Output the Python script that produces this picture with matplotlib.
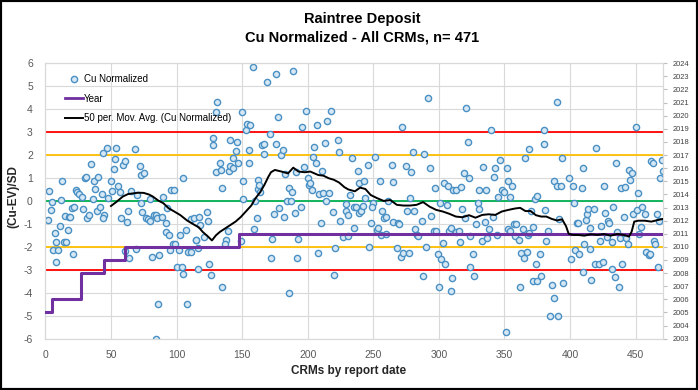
import matplotlib
matplotlib.use("Agg")
import matplotlib.pyplot as plt
from matplotlib.lines import Line2D
from matplotlib.patches import Rectangle

plt.rcParams['font.family'] = ['Liberation Sans', 'DejaVu Sans']
plt.rcParams['axes.unicode_minus'] = False

# Cu Normalized values, index by report date
cu_x = [3, 2, 4, 5, 7, 6, 8, 8, 10, 11, 12, 13, 14, 16, 15, 17, 18, 19, 20, 21, 22, 23, 24, 26, 28, 29, 30, 31, 32, 33,
        35, 36, 37, 40, 38, 39, 42, 43, 44, 47, 45, 44, 48, 50, 51, 52, 53, 54, 55, 57, 58, 59, 61, 62, 63, 61, 64, 65,
        68, 69, 70, 72, 73, 73, 75, 74, 77, 78, 80, 80, 81, 83, 84, 85, 86, 84, 87, 89, 90, 92, 92, 93, 94, 96, 98, 95,
        97, 99, 100, 102, 103, 104, 105, 105, 107, 108, 109, 111, 111, 113, 115, 116, 116,
        117, 118, 123, 124, 115, 121, 125, 126, 128, 128, 131, 130, 130, 133, 134, 135, 135, 138, 139, 137, 140, 141,
        141, 143, 143, 145, 146, 147, 149, 150, 151, 151, 153, 154, 156, 155, 155, 158, 159, 160, 161, 162, 162, 163,
        164, 165, 167, 167, 169, 171, 172, 173, 174, 176, 176, 177, 178, 180, 181, 182, 183, 184, 187, 186, 186, 188,
        189, 190, 191, 192, 193, 195, 196, 197, 199, 200, 201, 202, 203, 204, 205, 206, 207, 208, 209, 210, 211, 212,
        214, 216, 213, 215, 218, 219, 220, 221, 223, 224, 225, 227, 229, 229, 231, 231, 232, 234, 235,
        238, 239, 235, 237, 239, 241, 242, 244, 243, 246, 248, 247, 250, 249, 251, 253, 254, 255, 256, 257, 258, 260,
        260, 261, 264, 265, 265, 268, 269, 270, 272, 271, 273, 277, 275, 276, 278, 279, 280, 281, 282, 283, 284, 287,
        288, 289, 290, 292, 293, 294, 296, 297, 298, 299, 300, 301, 302, 303, 304, 305, 306, 307, 308, 309, 310, 309,
        311, 313, 313, 315, 316, 317, 318, 319, 320, 321, 322, 323, 324, 326, 324, 327, 328, 330, 331, 336, 331, 333,
        334, 335, 337, 338, 340, 341, 342, 343, 344, 345, 347, 348, 350, 351, 352, 353, 353,
        354, 356, 354, 357, 359, 358, 361, 362, 364, 363, 365, 367, 366, 368, 369, 369, 370, 372, 373, 375, 372, 375,
        374, 377, 378, 380, 380, 381, 382, 383, 385, 391, 386, 388, 388, 390, 390, 393, 392, 394, 395, 399, 401, 402,
        403, 404, 405, 406, 407, 409, 410, 410, 411, 412, 413, 414, 415, 415, 416, 418, 419, 422, 420, 423, 424, 425,
        426, 427, 428, 429, 430, 432, 432, 433, 434, 435, 436, 437, 438, 439, 442, 440, 441, 443, 444, 445, 447, 446,
        448, 451, 450, 452, 453, 454, 455, 457, 458, 460, 461, 462, 463, 464, 465, 466, 467, 468, 469, 470, 471]
cu_y = [0.45, -0.84, -0.39, -0.03, -1.41, -2.13, -1.77, -2.64, -2.13, -1.09, 0.04, 0.87, -1.80, -1.80, -0.64, -1.26,
        -0.71, -0.71, -0.29, -2.32, -0.28, 0.48, 0.38, 0.29, 0.16, -0.36, 1.02, 1.05, -0.73, -0.61,
        1.61, 0.09, 0.87, 1.06, 0.54, -0.44, -0.28, 0.29, 2.08, 2.32, -0.60, -0.73, 0.15, 0.89, 0.44, 1.38, 1.82, 2.29,
        0.65, 0.41, -0.73, 1.57, 1.74, -0.90, -0.42, -2.18, -2.50, 0.45,
        2.25, -2.09, 0.26, 1.53, 1.13, -0.10, 1.21, -0.48, -0.76, -0.80, 0.07, -0.86, -2.45, -0.61, -0.61, -0.76,
        -4.47, -6.0, -2.35, -0.68, 0.16, -0.96, -1.34, -0.29, -1.48, 0.48, 0.48, -2.13,
        -1.86, -1.86, -2.88, -2.15, -1.48, -2.89, 0.99, -3.17, -1.26, -4.50, -2.24, -2.24, -0.78, -0.76, -1.71, -2.06,
        -2.98,
        -0.71, -1.05, -0.46, -0.86, -1.70, -1.55, -2.76, -3.24, 2.73, 2.44, 4.33, 3.86, 1.25, 1.67, 1.35, 0.58, -3.75,
        -1.70, -1.31, -1.89, 1.32, 2.66,
        1.54, 1.45, 1.89, 2.19, 2.56, 1.67, -1.74, 3.86, 0.89, 0.07, 3.08, 3.36, 3.30, 1.66, 2.22, 5.84, -1.22, 0.0,
        -0.76, 0.52, 0.92, 0.70,
        0.41, 2.44, 2.47, 2.05, 5.17, 2.91, -2.50, -1.67, -0.57, 5.53, 2.50, 3.66, -0.32, 2.0, 2.22, -0.68, 1.18, 0.0,
        0.0, -3.99, 0.55, 0.41,
        5.66, -0.51, 1.25, -2.50, -1.67, -0.25, 3.22, 1.50, 3.92, 0.99, 0.70, 0.77, 0.49, 1.93, 2.37, 1.64, 3.31, -2.25,
        0.29, -0.94, 1.32, 0.33,
        0.0, 0.33, 2.54, 3.49, 3.92, -0.46, -3.24, -2.03, 2.66, 2.11, -0.87, -1.55, -0.15, -0.44, -0.61, -1.53, 0.26,
        1.89, -1.19,
        1.32, 0.77, -0.25, -0.28, -0.54, -0.42, -0.20, 0.12, 0.87, 1.57, -0.94, -2.02, -0.10, -0.25, 1.93, -1.26, -1.16,
        0.87, -1.48, -0.44, -0.76, -0.68,
        -1.45, 0.01, 1.57, 0.81, -0.93, -2.06, -0.97, -1.00, 3.20, -2.44, -2.25, -2.25, 1.54, -0.44, 0.12, 1.25, 2.11,
        -0.44, -1.23, -1.48, -1.51, -0.87,
        -3.25, 2.05, -2.02, 4.47, 1.42, -0.64, -1.29, 0.55, -1.29, -2.31, -3.73, -0.07, -2.53, -1.82, 0.77, -2.76,
        -0.17, 0.67, -1.31, -1.19, -3.37, -3.92,
        0.48, 0.48, -1.34, -1.31, -1.80, 0.60, -0.35, 1.23, -0.76, 4.04, 2.56, 0.99, -1.51, -2.31, -2.86, -3.25, -1.00,
        -0.07, 0.48, 0.48, -0.35, -1.74,
        1.50, -0.93, -1.60, -1.22, 3.09, -0.71, 1.06, 1.42, -1.48, 0.19, 1.79, 0.48, 0.41, -5.72, 1.42, 0.87, -1.22,
        0.19, 0.67, -1.29, -1.02, -1.02, -1.51, -1.70, -3.73, -1.22, -2.25, -2.47, -2.21, 1.89, -1.48, 2.25, -1.41,
        -0.44, -1.12, 0.09, 0.23, -3.49, -3.49,
        -2.76, -2.32, -3.25, 3.09, 2.50, -0.39, -1.73, -1.31, -5.00, -5.00, -3.66, -4.24, 0.89, 4.30, 0.67, 0.67, -0.78,
        1.89, -3.56, 0.99, -2.54, 0.67,
        -0.07, -2.13, -0.94, -0.97, -2.32, 0.55, -3.11, 1.42, -1.87, -0.83, -0.58, -0.35, -2.11, -1.19, -3.44, -0.35,
        -2.76, -2.76, 2.32, -1.74, -1.07, -2.67,
        0.67, -0.51, -1.55, -0.86, -0.97, -1.77, -2.98, -0.25, -3.33, 1.67, -1.37, -3.73, -1.63, 0.55, 0.60, -2.76,
        -0.68, -1.63, -1.87, 1.35, 1.21, 0.92,
        -0.57, -0.39, 3.24, 0.36, -1.44, -1.12, -0.25, -0.55, -2.24, -2.35, -2.32, 1.74, 1.67, -1.74, -1.89, -0.57,
        -2.89, -0.87, 0.99, 1.79, 1.32]

# 50 period moving average
ma_x = [50, 54, 59, 63, 67, 71, 75, 79, 82, 86, 90, 94, 98, 103, 108, 113, 117, 120, 124, 127, 130, 133, 137, 141,
        145, 149, 153, 157, 160, 164, 167, 170, 172, 175, 180, 185, 189, 193, 198, 202, 208, 212, 216, 220, 224, 228,
        231, 236, 240, 244, 248, 253, 258, 263, 268, 273, 278, 283, 288, 293, 298, 303, 308, 313, 318, 323, 328, 333,
        338, 343, 348, 353, 358, 362, 366, 370, 374, 378, 382, 386, 390, 394, 397, 399, 402, 406, 411, 416, 421, 426,
        431, 436, 441, 445, 447, 449, 452, 457, 462, 467, 471]
ma_y = [-0.22, -0.05, 0.19, 0.30, 0.33, 0.36, 0.35, 0.28, 0.19, 0.02, -0.10, -0.32, -0.45, -0.62, -0.85, -1.02,
        -1.15, -1.35, -1.55, -1.72, -1.50, -1.35, -1.20, -1.05, -0.90, -0.70, -0.45, -0.20, 0.10, 0.40, 0.70, 1.05,
        1.25, 1.35, 1.28, 1.20, 1.45, 1.28, 1.25, 1.28, 1.13, 1.10, 0.99, 0.92, 0.80, 0.60, 0.50, 0.42, 0.58, 0.52,
        0.26, 0.12, 0.00, 0.04, -0.17, -0.20, -0.20, -0.17, -0.05, -0.25, -0.39, -0.46, -0.56, -0.68, -0.71, -0.62,
        -0.73, -0.61, -0.58, -0.61, -0.46, -0.39, -0.33, -0.30, -0.44, -0.44, -0.62, -0.68, -0.68, -0.78, -0.85,
        -0.80, -1.10, -1.43, -1.48, -1.48, -1.51, -1.45, -1.48, -1.44, -1.51, -1.44, -1.48, -1.55, -1.34, -0.90,
        -0.86, -0.86, -0.90, -0.83, -0.78]

# Year (secondary axis), step changes
year_x = [0, 5, 27, 45, 61, 148, 471]
year_v = [2005, 2006, 2008, 2009, 2010, 2011, 2011]

fig = plt.figure(figsize=(6.98, 3.90), dpi=100)
ax = fig.add_axes([0.065, 0.1315, 0.885, 0.7065])
ax2 = ax.twinx()

grid_c = '#d9d9d9'
ax.set_xlim(0, 471)
ax.set_ylim(-6, 6)
ax.set_xticks(range(0, 451, 50))
ax.set_yticks(range(-6, 7))
ax.grid(True, color=grid_c, lw=0.8)
ax.set_axisbelow(True)
ax.tick_params(length=0, labelsize=7.5, labelcolor='#595959')
ax.tick_params(axis='x', pad=8)
ax.tick_params(axis='y', pad=9)

for y, c in [(3, '#ff0000'), (-3, '#ff0000'), (2, '#ffc000'), (-2, '#ffc000'), (0, '#00b050')]:
    ax.axhline(y, color=c, lw=1.3, zorder=2)

ax.scatter(cu_x, cu_y, s=20, facecolor='#d5e8f4', edgecolor='#4a90c4', linewidth=1.0, zorder=3)

ax2.set_ylim(2003, 2024)
ax2.set_yticks(range(2003, 2025))
ax2.tick_params(axis='y', length=3, color='#bfbfbf', labelsize=5.4, labelcolor='#404040', pad=4)
ax2.step(year_x, year_v, where='post', color='#7030a0', lw=2.2, zorder=3)
ax2.plot(ma_x, ma_y, color='black', lw=1.4, transform=ax.transData, zorder=4)

for a in (ax, ax2):
    for s in a.spines.values():
        s.set_color(grid_c)
        s.set_linewidth(0.8)

handles = [Line2D([], [], marker='o', ls='none', markersize=4.5, markerfacecolor='#d5e8f4',
                  markeredgecolor='#4a90c4', markeredgewidth=1.0),
           Line2D([], [], color='#7030a0', lw=2),
           Line2D([], [], color='black', lw=1.4)]
labels = ['Cu Normalized', 'Year', '50 per. Mov. Avg. (Cu Normalized)']
ax2.legend(handles, labels, loc='upper left', bbox_to_anchor=(0.025, 0.975), frameon=False, fontsize=7,
           labelspacing=1.0, handlelength=1.9, handletextpad=0.1, borderaxespad=0)

fig.text(0.519, 0.952, 'Raintree Deposit', ha='center', va='center', fontsize=10.5, fontweight='bold')
fig.text(0.519, 0.903, 'Cu Normalized - All CRMs, n= 471', ha='center', va='center', fontsize=10.5,
         fontweight='bold')
fig.text(0.499, 0.048, 'CRMs by report date', ha='center', va='center', fontsize=8.5, fontweight='bold',
         color='#262626')
fig.text(0.019, 0.495, '(Cu-EV)/SD', ha='center', va='center', rotation=90, fontsize=8.5, fontweight='bold',
         color='#262626')

fig.add_artist(Rectangle((0, 0), 1, 1, transform=fig.transFigure, fill=False, edgecolor='black', lw=3,
                         clip_on=False))

fig.savefig('out.png', dpi=100)
